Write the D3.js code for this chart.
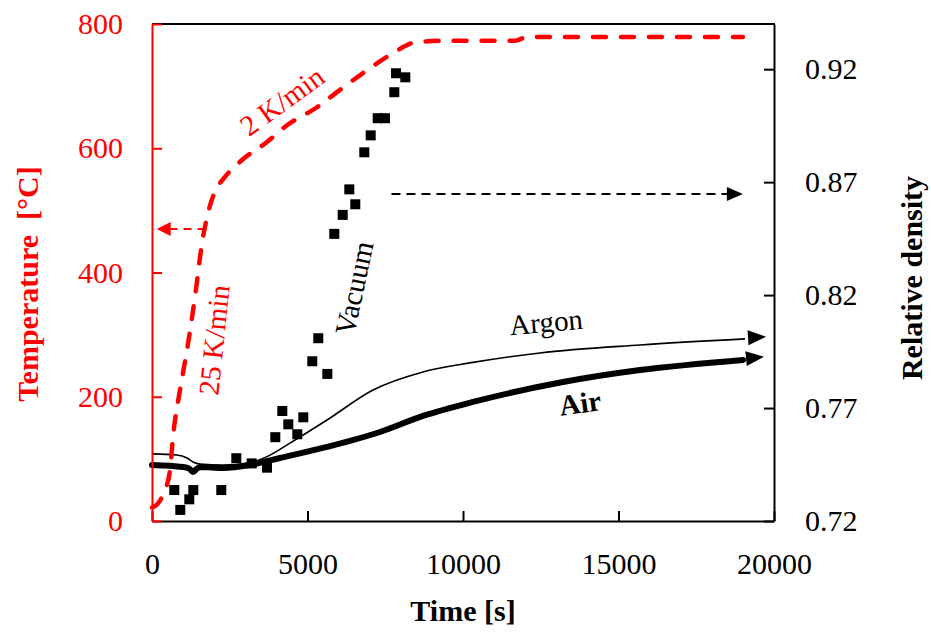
<!DOCTYPE html>
<html><head><meta charset="utf-8">
<script src="https://cdn.jsdelivr.net/npm/d3@7"></script>
<style>
html,body{margin:0;padding:0;background:#fff;}
svg text{font-family:"Liberation Serif","Tinos","Times New Roman","Noto Serif","FreeSerif","DejaVu Serif","Liberation Sans",serif !important;}
</style></head>
<body>
<svg id="chart" width="931" height="633"></svg>
<script>
// ---- data ----
const xTicks = [0, 5000, 10000, 15000, 20000];
const tempTicks = [0, 200, 400, 600, 800];
const densTicks = [0.72, 0.77, 0.82, 0.87, 0.92];

const tempTime = [0, 150, 350, 580, 675, 900, 1125, 1383, 1608, 1850, 2050, 2300, 2894, 3698, 4341, 5305, 6045, 6785, 7653, 8521, 9486, 11672, 12058, 19000];
const tempVal  = [22, 26, 42, 82, 135, 211, 275, 361, 447, 505, 533, 551, 581, 610, 637, 666, 694, 721, 750, 771, 773, 773, 779, 779];

const argonTime = [0, 800, 1125, 1318, 1543, 2283, 3151, 3698, 4437, 5627, 7106, 8714, 10322, 12476, 15691, 19068];
const argonVal  = [0.7497, 0.7492, 0.7479, 0.7461, 0.7452, 0.7448, 0.7458, 0.7485, 0.7545, 0.7647, 0.7780, 0.7860, 0.7902, 0.7944, 0.7979, 0.8006];

const airTime = [0, 997, 1200, 1318, 1450, 1543, 2283, 3151, 4116, 5627, 7331, 8714, 10322, 13215, 15691, 19003];
const airVal  = [0.7448, 0.7439, 0.7432, 0.7417, 0.7432, 0.7439, 0.7435, 0.7448, 0.7479, 0.7528, 0.7594, 0.7665, 0.7727, 0.7815, 0.7868, 0.7913];

const vacTime = [717, 910, 1199, 1328, 2228, 2711, 3206, 3698, 3965, 4190, 4383, 4672, 4865, 5154, 5347, 5637, 5862, 6132, 6344, 6537, 6826, 7032, 7257, 7492, 7791, 7846, 8145];
const vacVal  = [0.7337, 0.7249, 0.7296, 0.7337, 0.7337, 0.7478, 0.7455, 0.7436, 0.7571, 0.7687, 0.7628, 0.7584, 0.7659, 0.7907, 0.8009, 0.7851, 0.8471, 0.8555, 0.8668, 0.8602, 0.8832, 0.8907, 0.8983, 0.8983, 0.9098, 0.9182, 0.9164];

// annotation arrows (data coordinates)
const tempArrow = {from: 1720, to: 150, T: 470};
const densArrow = {from: 7700, to: 19000, d: 0.8648};

// ---- scales ----
const svg = d3.select("#chart");
const L = 152, R = 774, T = 24, B = 521;
const x = d3.scaleLinear().domain([0, 20000]).range([L, R]);
const yT = d3.scaleLinear().domain([0, 800]).range([B, T]);
const yD = d3.scaleLinear().domain([0.72, 0.94]).range([B, T]);
const RED = "#ff0000";
const FS = 30;
const SERIF = '"Liberation Serif","Tinos","Times New Roman","Noto Serif","FreeSerif","DejaVu Serif","Liberation Sans",serif';

// ---- series ----
const tempData = tempTime.map((t, i) => [t, tempVal[i]]);
const argonData = argonTime.map((t, i) => [t, argonVal[i]]);
const airData = airTime.map((t, i) => [t, airVal[i]]);
const vacData = vacTime.map((t, i) => [t, vacVal[i]]);

const lineT = d3.line().x(d => x(d[0])).y(d => yT(d[1])).curve(d3.curveMonotoneX);
const lineD = d3.line().x(d => x(d[0])).y(d => yD(d[1])).curve(d3.curveMonotoneX);

// vacuum squares
svg.append("g").selectAll("rect").data(vacData).join("rect")
  .attr("x", d => x(d[0]) - 5).attr("y", d => yD(d[1]) - 5)
  .attr("width", 10).attr("height", 10).attr("fill", "#000");

// air (thick) and argon (thin)
svg.append("path").datum(airData).attr("d", lineD)
  .attr("fill", "none").attr("stroke", "#000").attr("stroke-width", 6).attr("stroke-linecap", "round");
svg.append("path").datum(argonData).attr("d", lineD)
  .attr("fill", "none").attr("stroke", "#000").attr("stroke-width", 1.6);

// arrowheads
function head(tipX, tipY, len, half, ang, color) {
  const c = Math.cos(ang), s = Math.sin(ang);
  const p = [[tipX, tipY],
    [tipX - len * c - half * s, tipY - len * s + half * c],
    [tipX - len * c + half * s, tipY - len * s - half * c]];
  svg.append("path").attr("d", "M" + p.join("L") + "Z").attr("fill", color);
}
[argonData, airData].forEach(data => {
  const a = data[data.length - 2], b = data[data.length - 1];
  const ang = Math.atan2(yD(b[1]) - yD(a[1]), x(b[0]) - x(a[0]));
  const tipX = x(b[0]) + 21;
  const tipY = yD(b[1]) + Math.tan(ang) * 21 - 1;
  head(tipX, tipY, 18, 7.5, ang, "#000");
});

// temperature curve (red dashed)
svg.append("path").datum(tempData).attr("d", lineT)
  .attr("fill", "none").attr("stroke", RED).attr("stroke-width", 4.5)
  .attr("stroke-dasharray", "13,15").attr("stroke-linecap", "round");

// annotation arrows
svg.append("line")
  .attr("x1", x(tempArrow.from)).attr("x2", x(tempArrow.to) + 12)
  .attr("y1", yT(tempArrow.T)).attr("y2", yT(tempArrow.T))
  .attr("stroke", RED).attr("stroke-width", 2).attr("stroke-dasharray", "8,6");
head(x(tempArrow.to), yT(tempArrow.T), 14, 7, Math.PI, RED);

svg.append("line")
  .attr("x1", x(densArrow.from)).attr("x2", x(densArrow.to) - 14)
  .attr("y1", yD(densArrow.d)).attr("y2", yD(densArrow.d))
  .attr("stroke", "#000").attr("stroke-width", 2).attr("stroke-dasharray", "9,6");
head(x(densArrow.to), yD(densArrow.d), 16, 7, 0, "#000");

// ---- axes ----
const gx = svg.append("g").attr("transform", `translate(0,${B})`)
  .call(d3.axisBottom(x).tickValues(xTicks).tickSizeInner(-10).tickSizeOuter(0).tickPadding(32).tickFormat(d3.format("d")));
gx.attr("font-family", SERIF);
gx.select(".domain").attr("stroke", "#000").attr("stroke-width", 2);
gx.selectAll(".tick line").attr("stroke", "#000").attr("stroke-width", 2);
gx.selectAll("text").attr("font-size", FS).attr("fill", "#000").attr("font-family", SERIF);

const gr = svg.append("g").attr("transform", `translate(${R},0)`)
  .call(d3.axisRight(yD).tickValues(densTicks).tickSizeInner(-10).tickSizeOuter(0).tickPadding(31).tickFormat(d3.format(".2f")));
gr.attr("font-family", SERIF);
gr.select(".domain").attr("stroke", "#000").attr("stroke-width", 2);
gr.selectAll(".tick line").attr("stroke", "#000").attr("stroke-width", 2);
gr.selectAll("text").attr("font-size", FS).attr("fill", "#000").attr("font-family", SERIF);

svg.append("line").attr("x1", L).attr("x2", R + 1).attr("y1", T).attr("y2", T)
  .attr("stroke", "#000").attr("stroke-width", 2);

const gl = svg.append("g").attr("transform", `translate(${L},0)`)
  .call(d3.axisLeft(yT).tickValues(tempTicks).tickSizeInner(-10).tickSizeOuter(0).tickPadding(29).tickFormat(d3.format("d")));
gl.attr("font-family", SERIF);
gl.select(".domain").attr("stroke", RED).attr("stroke-width", 2);
gl.selectAll(".tick line").attr("stroke", RED).attr("stroke-width", 2);
gl.selectAll("text").attr("font-size", FS).attr("fill", RED).attr("font-family", SERIF);

// ---- axis titles ----
svg.append("text").attr("x", (L + R) / 2).attr("y", 621).attr("text-anchor", "middle")
  .attr("font-family", SERIF)
  .attr("font-size", FS).attr("font-weight", "bold").attr("fill", "#000")
  .attr("xml:space", "preserve").text("Time [s]");
svg.append("text").attr("transform", "translate(38,284) rotate(-90)").attr("text-anchor", "middle")
  .attr("font-family", SERIF)
  .attr("font-size", FS).attr("font-weight", "bold").attr("fill", RED)
  .attr("xml:space", "preserve").text("Temperature  [°C]");
svg.append("text").attr("transform", "translate(922,278) rotate(-90)").attr("text-anchor", "middle")
  .attr("font-family", SERIF)
  .attr("font-size", FS).attr("font-weight", "bold").attr("fill", "#000")
  .text("Relative density");

// ---- annotations ----
function label(txt, cx, cy, rot, color, bold) {
  svg.append("text").attr("transform", `translate(${cx},${cy}) rotate(${rot})`)
    .attr("font-family", SERIF)
    .attr("text-anchor", "middle").attr("dominant-baseline", "central")
    .attr("font-size", 29).attr("font-weight", bold ? "bold" : "normal")
    .attr("fill", color).text(txt);
}
label("2 K/min", 282, 101, -36, RED, false);
label("25 K/min", 214, 340, -84, RED, false);
label("Vacuum", 354, 288, -78, "#000", false);
label("Argon", 546, 322, -5, "#000", false);
label("Air", 580, 403, -8, "#000", true);
</script>
</body></html>
